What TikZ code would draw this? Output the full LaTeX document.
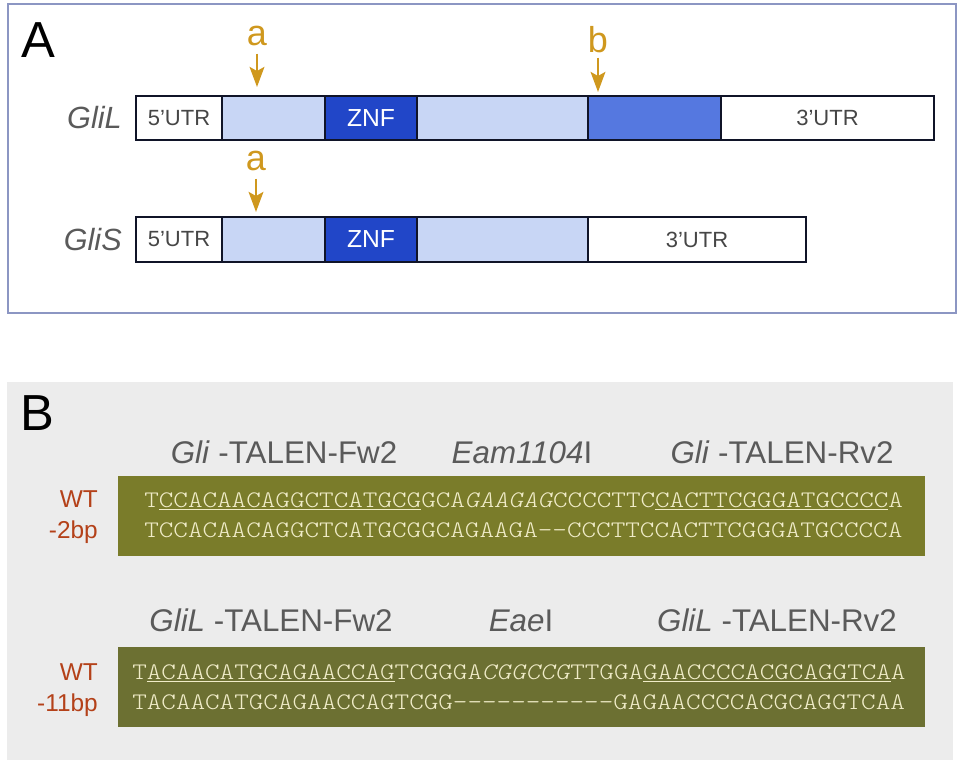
\documentclass[tikz,border=0pt]{standalone}
\usepackage{fontspec}
\setmainfont{Liberation Sans}
\newfontfamily\seqfont[Extension=.otf, UprightFont=lmmonolt10-regular, ItalicFont=lmmonolt10-oblique, FakeStretch=1.17]{lmmonolt10-regular}
\usepackage{tikz}
\usetikzlibrary{positioning,arrows.meta}
\definecolor{frameblue}{RGB}{140,150,195}
\definecolor{bggray}{RGB}{236,236,236}
\definecolor{oliveone}{RGB}{122,124,42}
\definecolor{olivetwo}{RGB}{108,112,50}
\definecolor{seqcream}{RGB}{240,236,200}
\definecolor{mutred}{RGB}{180,65,25}
\definecolor{labgray}{RGB}{90,90,90}
\definecolor{utrtext}{RGB}{70,70,70}
\definecolor{exonlight}{RGB}{200,214,245}
\definecolor{znfblue}{RGB}{33,70,200}
\definecolor{exonmid}{RGB}{85,120,224}
\definecolor{barline}{RGB}{16,20,40}
\definecolor{sitegold}{RGB}{207,152,30}

\begin{document}
\begin{tikzpicture}[
        x=0.75pt, y=-0.75pt,
        seg/.style={rectangle, draw=barline, line width=1.8pt, fill=#1, outer sep=0pt, inner sep=0pt,
            minimum height=33pt, anchor=west},
        utr/.style={text=utrtext, font=\fontsize{16.5}{18}\selectfont},
        znf/.style={text=white, font=\fontsize{18.5}{20}\selectfont},
        gene/.style={text=labgray, font=\fontsize{23}{25}\selectfont\itshape, anchor=base east, inner sep=0pt},
        site/.style={text=sitegold, font=\fontsize{27}{29}\selectfont, anchor=base, inner sep=0pt},
        pin/.style={draw=sitegold, line width=2pt, -{Stealth[length=15pt, width=11pt, inset=3pt]}},
        panel/.style={font=\fontsize{38}{40}\selectfont, anchor=base west, inner sep=0pt},
        talen/.style={text=labgray, font=\fontsize{23.5}{26}\selectfont, anchor=base, inner sep=0pt},
        mut/.style={text=mutred, font=\fontsize{18.3}{20}\selectfont, anchor=base east, inner sep=0pt},
        seq/.style={text=seqcream, font=\seqfont\fontsize{17.8}{22}\selectfont, anchor=base west, inner sep=0pt},
        seqbox/.style={rectangle, fill=#1, minimum width=605.25pt, minimum height=60pt, inner sep=0pt}
    ]
        \useasboundingbox (0,0) rectangle (961,764);
        \draw[frameblue, line width=1pt] (8,4) rectangle (956,313);
        \fill[bggray] (7,382) rectangle (953,760);

        \node[panel] (panA) at (21,57) {A};
        \node[panel] (panB) at (20,430) {B};

        \node[gene] (gliL) at (122,128) {GliL};
        \node[seg=white, minimum width=64.5pt, utr] (l5utr) at (136,118) {5’UTR};
        \node[seg=exonlight, minimum width=77.25pt, right=0pt of l5utr] (lex1) {};
        \node[seg=znfblue, minimum width=69pt, znf, right=0pt of lex1] (lznf) {ZNF};
        \node[seg=exonlight, minimum width=128.25pt, right=0pt of lznf] (lex2) {};
        \node[seg=exonmid, minimum width=99.75pt, right=0pt of lex2] (lex3) {};
        \node[seg=white, minimum width=159.75pt, utr, right=0pt of lex3] (l3utr) {3’UTR};

        \node[gene] (gliS) at (122,250) {GliS};
        \node[seg=white, minimum width=64.5pt, minimum height=33.75pt, utr] (s5utr) at (136,239.5) {5’UTR};
        \node[seg=exonlight, minimum width=77.25pt, minimum height=33.75pt, right=0pt of s5utr] (sex1) {};
        \node[seg=znfblue, minimum width=69pt, minimum height=33.75pt, znf, right=0pt of sex1] (sznf) {ZNF};
        \node[seg=exonlight, minimum width=128.25pt, minimum height=33.75pt, right=0pt of sznf] (sex2) {};
        \node[seg=white, minimum width=163.5pt, minimum height=33.75pt, utr, right=0pt of sex2] (s3utr) {3’UTR};

        \node[site] (sitea) at (257,45) {a};
        \node[site] (siteb) at (598,52) {b};
        \node[site] (sitec) at (256,170) {a};
        \coordinate (tipa) at (257,87);
        \coordinate (tipb) at (598,92);
        \coordinate (tipc) at (256,212);
        \draw[pin, shorten <=6pt] (sitea) -- (tipa);
        \draw[pin, shorten <=3.75pt] (siteb) -- (tipb);
        \draw[pin, shorten <=6pt] (sitec) -- (tipc);

        \node[talen] (fwone) at (284,463) {\textit{Gli} -TALEN-Fw2};
        \node[talen] (eam) at (522,463) {\textit{Eam1104}I};
        \node[talen] (rvone) at (782,463) {\textit{Gli} -TALEN-Rv2};
        \node[seqbox=oliveone] (boxone) at (521.5,516) {};
        \node[mut] (wtone) at (98,507) {WT};
        \node[mut] (delone) at (98,538) {-2bp};
        \node[seq] (seqwtone) at (144,507) {T\underline{CCACAACAGGCTCATGCG}GCA\textit{GAAGAG}CCCCTTC\underline{CACTTCGGGATGCCCC}A};
        \node[seq] (seqdelone) at (144,537) {TCCACAACAGGCTCATGCGGCAGAAGA--CCCTTCCACTTCGGGATGCCCCA};

        \node[talen] (fwtwo) at (271,631) {\textit{GliL} -TALEN-Fw2};
        \node[talen] (eae) at (521,631) {\textit{Eae}I};
        \node[talen] (rvtwo) at (777,631) {\textit{GliL} -TALEN-Rv2};
        \node[seqbox=olivetwo] (boxtwo) at (521.5,687) {};
        \node[mut] (wttwo) at (98,680) {WT};
        \node[mut] (deltwo) at (98,711) {-11bp};
        \node[seq] (seqwttwo) at (132,679) {T\underline{ACAACATGCAGAACCAG}TCGGGA\textit{CGGCCG}TTGGA\underline{GAACCCCACGCAGGTCA}A};
        \node[seq] (seqdeltwo) at (132,709) {TACAACATGCAGAACCAGTCGG-----------GAGAACCCCACGCAGGTCAA};
    \end{tikzpicture}
\end{document}
